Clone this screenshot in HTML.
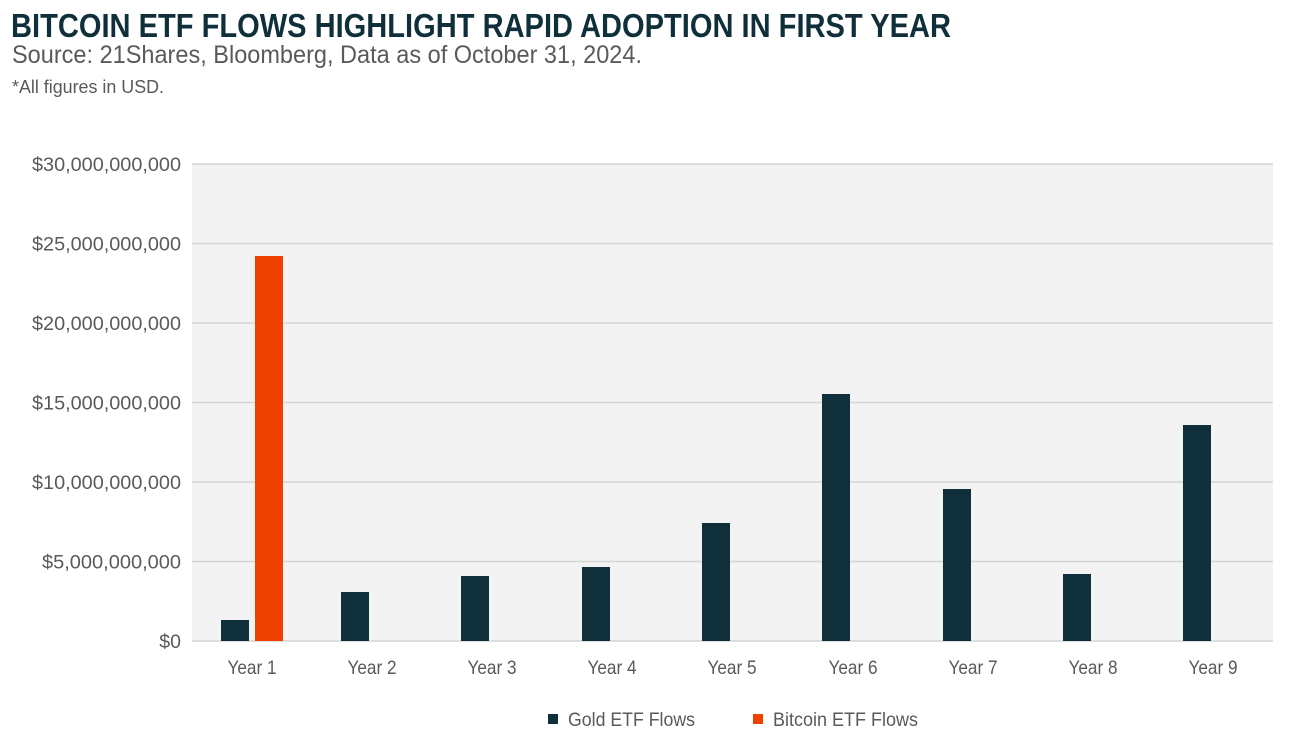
<!DOCTYPE html>
<html><head><meta charset="utf-8"><style>
html,body{margin:0;padding:0;background:#fff;}
svg{display:block;font-family:"Liberation Sans",sans-serif;}
</style></head><body>
<svg width="1307" height="743" viewBox="0 0 1307 743" xmlns="http://www.w3.org/2000/svg">
<text x="11" y="37" font-size="33" font-weight="bold" fill="#0f2f3a" textLength="940" lengthAdjust="spacingAndGlyphs">BITCOIN ETF FLOWS HIGHLIGHT RAPID ADOPTION IN FIRST YEAR</text>
<text x="12" y="63" font-size="25" fill="#5a5a5a" textLength="630" lengthAdjust="spacingAndGlyphs">Source: 21Shares, Bloomberg, Data as of October 31, 2024.</text>
<text x="12" y="93" font-size="18" fill="#5a5a5a" textLength="152" lengthAdjust="spacingAndGlyphs">*All figures in USD.</text>
<rect x="192" y="164" width="1081" height="477" fill="#f3f3f3"/>
<g stroke="#d4d4d4" stroke-width="1.5">
<line x1="192" x2="1273" y1="164" y2="164"/>
<line x1="192" x2="1273" y1="243.5" y2="243.5"/>
<line x1="192" x2="1273" y1="323" y2="323"/>
<line x1="192" x2="1273" y1="402.5" y2="402.5"/>
<line x1="192" x2="1273" y1="482" y2="482"/>
<line x1="192" x2="1273" y1="561.5" y2="561.5"/>
<line x1="192" x2="1273" y1="641" y2="641"/>
</g>
<g font-size="19.5" fill="#5a5a5a" text-anchor="end">
<text x="181" y="171" textLength="149" lengthAdjust="spacingAndGlyphs">$30,000,000,000</text>
<text x="181" y="250.5" textLength="149" lengthAdjust="spacingAndGlyphs">$25,000,000,000</text>
<text x="181" y="330" textLength="149" lengthAdjust="spacingAndGlyphs">$20,000,000,000</text>
<text x="181" y="409.5" textLength="149" lengthAdjust="spacingAndGlyphs">$15,000,000,000</text>
<text x="181" y="489" textLength="149" lengthAdjust="spacingAndGlyphs">$10,000,000,000</text>
<text x="181" y="568.5" textLength="139" lengthAdjust="spacingAndGlyphs">$5,000,000,000</text>
<text x="181" y="648">$0</text>
</g>
<g fill="#0f2f3a">
<rect x="221" y="620" width="28" height="21"/>
<rect x="341" y="592" width="28" height="49"/>
<rect x="461" y="576" width="28" height="65"/>
<rect x="582" y="567" width="28" height="74"/>
<rect x="702" y="523" width="28" height="118"/>
<rect x="822" y="394" width="28" height="247"/>
<rect x="943" y="489" width="28" height="152"/>
<rect x="1063" y="574" width="28" height="67"/>
<rect x="1183" y="425" width="28" height="216"/>
</g>
<rect x="255" y="256" width="28" height="385" fill="#ee4100"/>
<g font-size="19.5" fill="#5a5a5a" text-anchor="middle">
<text x="252" y="674" textLength="49" lengthAdjust="spacingAndGlyphs">Year 1</text>
<text x="372" y="674" textLength="49" lengthAdjust="spacingAndGlyphs">Year 2</text>
<text x="492" y="674" textLength="49" lengthAdjust="spacingAndGlyphs">Year 3</text>
<text x="612" y="674" textLength="49" lengthAdjust="spacingAndGlyphs">Year 4</text>
<text x="732" y="674" textLength="49" lengthAdjust="spacingAndGlyphs">Year 5</text>
<text x="853" y="674" textLength="49" lengthAdjust="spacingAndGlyphs">Year 6</text>
<text x="973" y="674" textLength="49" lengthAdjust="spacingAndGlyphs">Year 7</text>
<text x="1093" y="674" textLength="49" lengthAdjust="spacingAndGlyphs">Year 8</text>
<text x="1213" y="674" textLength="49" lengthAdjust="spacingAndGlyphs">Year 9</text>
</g>
<rect x="548" y="714" width="10" height="10" fill="#0f2f3a"/>
<text x="568" y="726" font-size="19.5" fill="#5a5a5a" textLength="127" lengthAdjust="spacingAndGlyphs">Gold ETF Flows</text>
<rect x="753" y="714" width="10" height="10" fill="#ee4100"/>
<text x="773" y="726" font-size="19.5" fill="#5a5a5a" textLength="145" lengthAdjust="spacingAndGlyphs">Bitcoin ETF Flows</text>
</svg>
</body></html>
